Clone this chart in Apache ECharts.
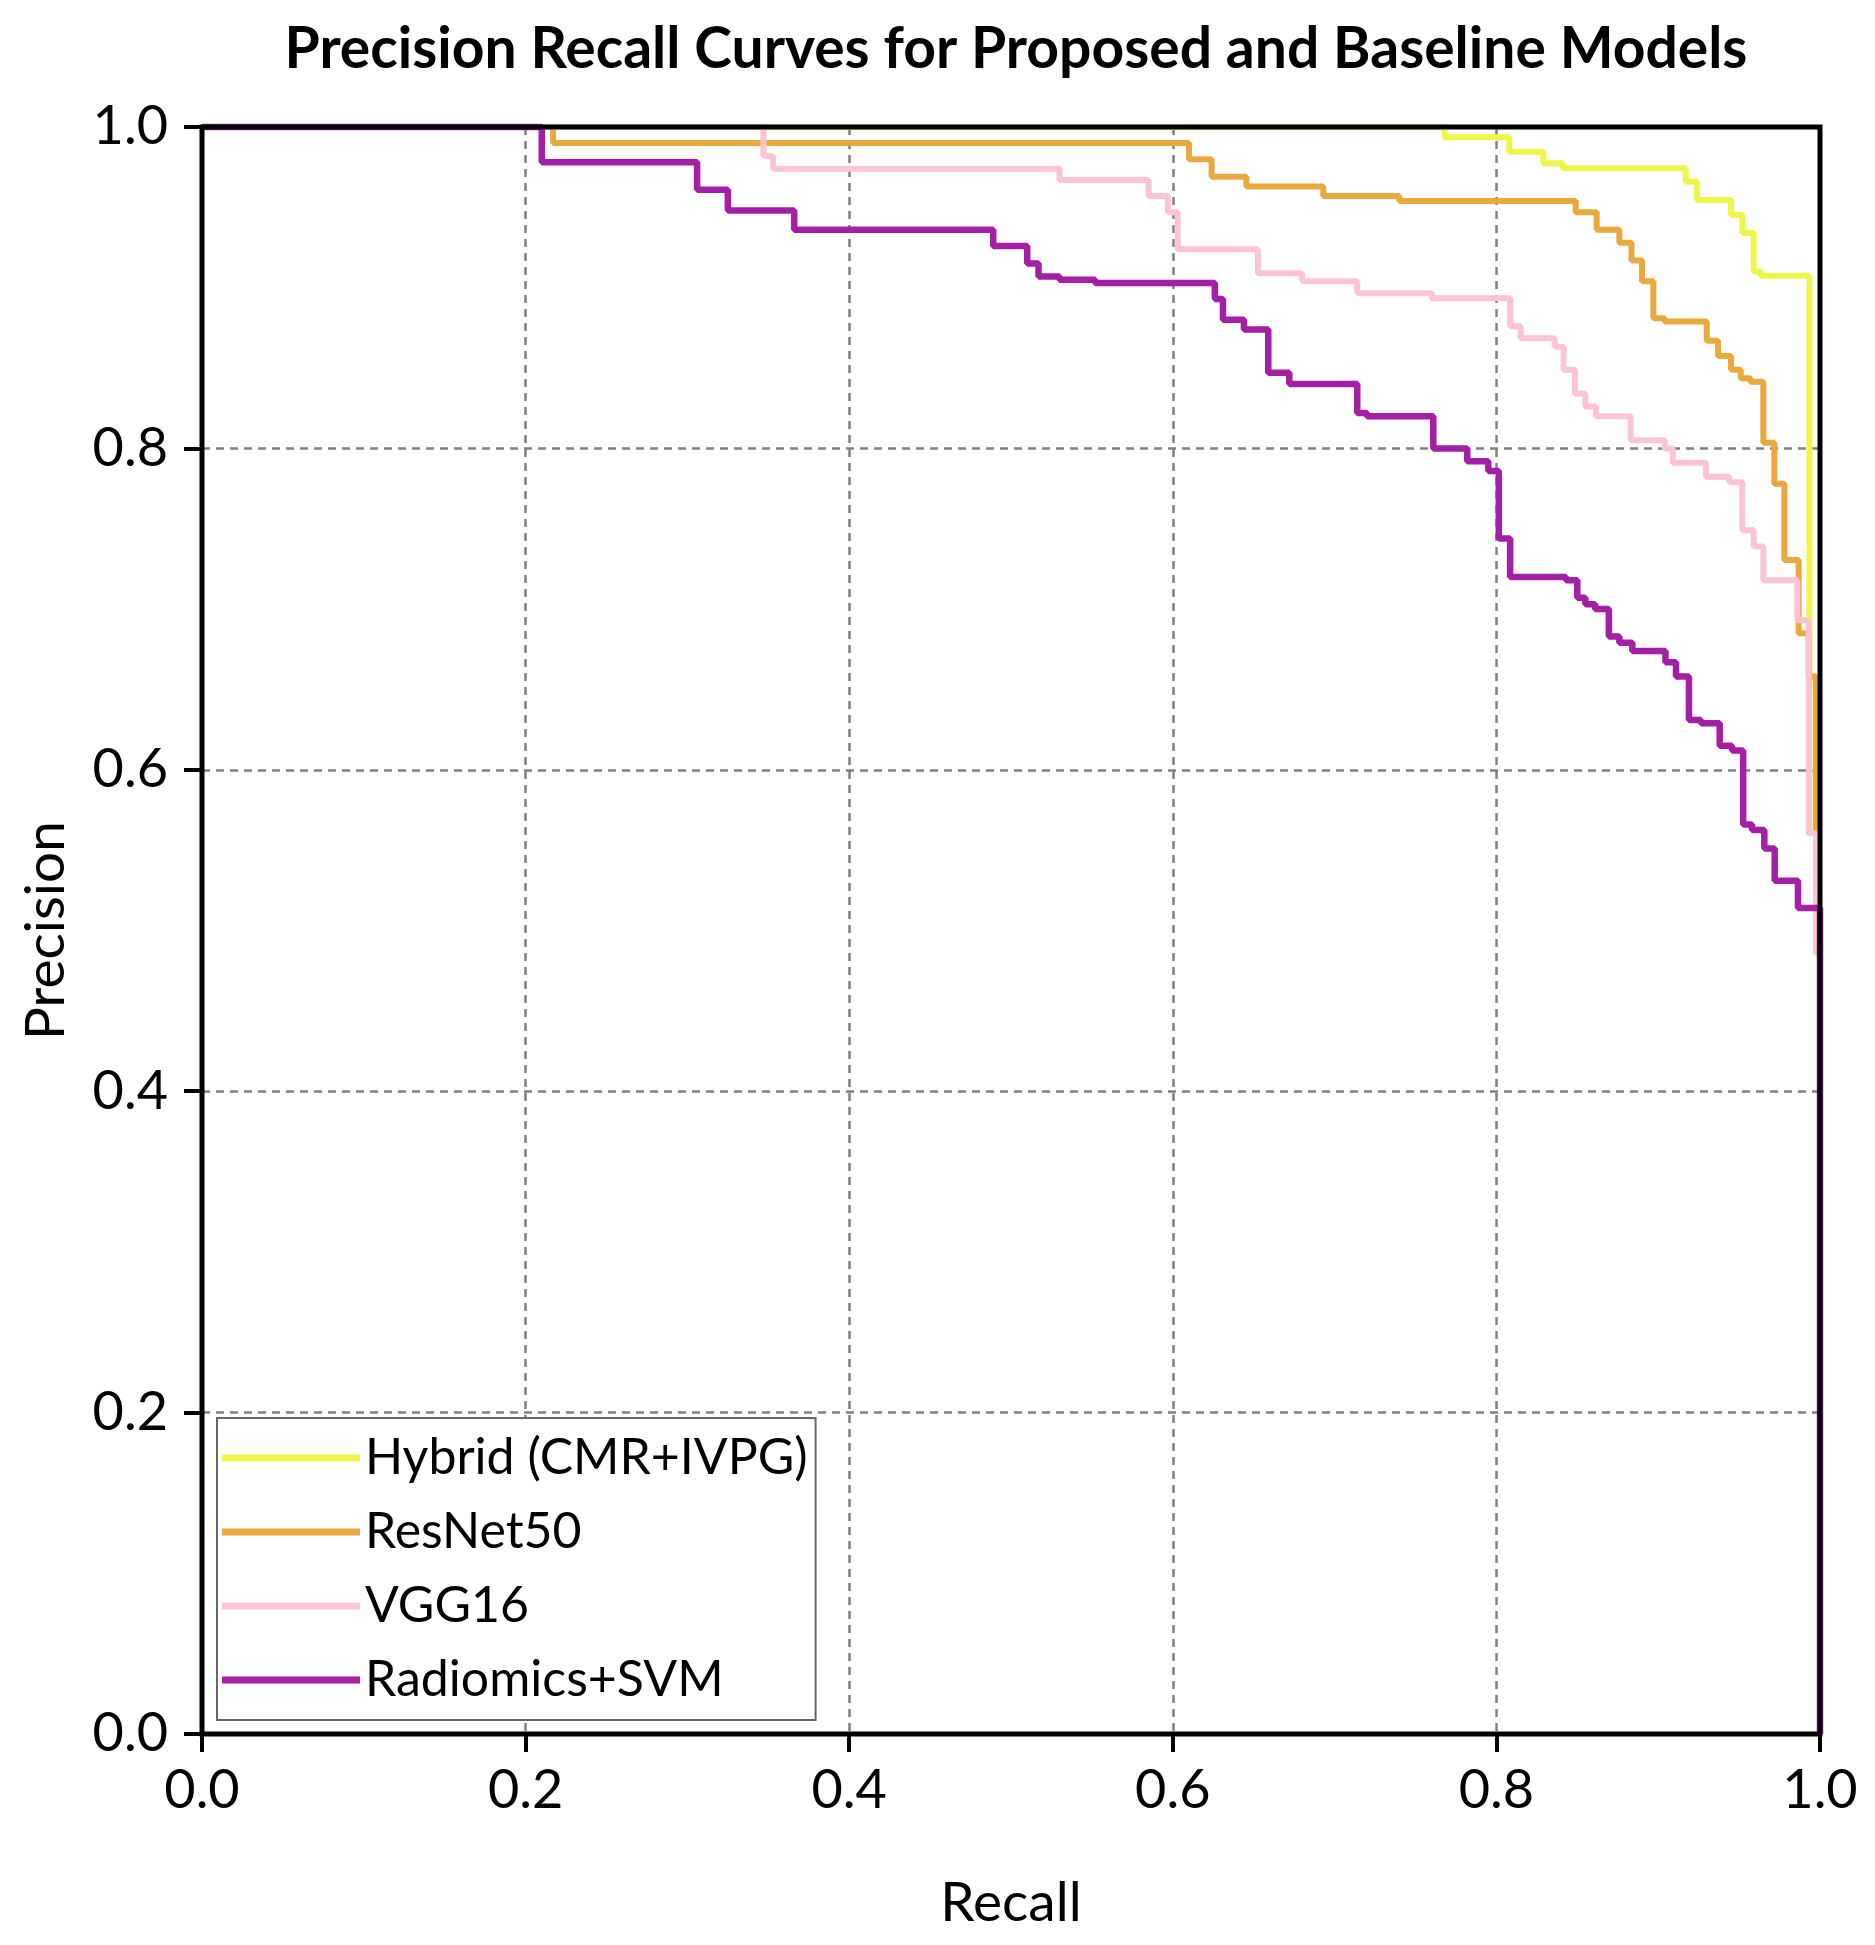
<!DOCTYPE html>
<html>
<head>
<meta charset="utf-8">
<title>Precision Recall Curves</title>
<script src="https://cdn.jsdelivr.net/npm/echarts@6/dist/echarts.min.js"></script>
<style>
  html, body { margin: 0; padding: 0; background: #fff; }
  #main { width: 1875px; height: 1945px; }
</style>
</head>
<body>
<div id="main"></div>
<script>
// axis ticks
var tickValues = [0, 0.2, 0.4, 0.6, 0.8, 1.0];

// Hybrid (CMR+IVPG)
var hybridRecall = [0, 0.768, 0.808, 0.829, 0.841, 0.917, 0.924, 0.945, 0.952, 0.959, 0.9635, 0.9935, 1.0];
var hybridPrecision = [1.0, 0.9936, 0.9846, 0.9774, 0.9743, 0.966, 0.9546, 0.9453, 0.9342, 0.910, 0.9075, 0.561, 0.561];

// ResNet50
var resnetRecall = [0, 0.217, 0.610, 0.624, 0.6455, 0.693, 0.740, 0.849, 0.862, 0.876, 0.8835, 0.890, 0.897, 0.904,
  0.930, 0.937, 0.945, 0.951, 0.957, 0.965, 0.9718, 0.978, 0.9868, 0.993, 0.9975, 1.0];
var resnetPrecision = [1.0, 0.990, 0.980, 0.969, 0.963, 0.957, 0.954, 0.947, 0.936, 0.928, 0.917, 0.904, 0.881, 0.879,
  0.867, 0.8575, 0.849, 0.8436, 0.8415, 0.8035, 0.778, 0.7306, 0.685, 0.658, 0.5625, 0.5625];

// VGG16
var vggRecall = [0, 0.347, 0.353, 0.530, 0.585, 0.597, 0.603, 0.6526, 0.680, 0.714, 0.760, 0.8085, 0.815, 0.836,
  0.8415, 0.8485, 0.855, 0.8615, 0.883, 0.904, 0.909, 0.9295, 0.944, 0.952, 0.959, 0.965, 0.986, 0.993, 0.9975, 1.0];
var vggPrecision = [1.0, 0.982, 0.974, 0.967, 0.957, 0.947, 0.924, 0.909, 0.904, 0.8965, 0.8935, 0.876, 0.8685, 0.8633,
  0.849, 0.834, 0.826, 0.820, 0.805, 0.800, 0.791, 0.7824, 0.779, 0.749, 0.739, 0.718, 0.693, 0.5605, 0.486, 0.486];

// Radiomics+SVM
var svmRecall = [0, 0.210, 0.306, 0.325, 0.366, 0.489, 0.510, 0.517, 0.530, 0.552, 0.626, 0.631, 0.644, 0.659, 0.672,
  0.714, 0.720, 0.761, 0.782, 0.795, 0.8015, 0.8085, 0.843, 0.850, 0.855, 0.861, 0.8695, 0.876, 0.884, 0.9045, 0.911,
  0.919, 0.9264, 0.938, 0.9456, 0.9525, 0.958, 0.9656, 0.972, 0.9864, 1.0];
var svmPrecision = [1.0, 0.978, 0.961, 0.948, 0.936, 0.926, 0.915, 0.907, 0.905, 0.903, 0.893, 0.880, 0.874, 0.847, 0.840,
  0.822, 0.820, 0.800, 0.792, 0.786, 0.744, 0.720, 0.718, 0.707, 0.703, 0.700, 0.683, 0.679, 0.674, 0.667, 0.658,
  0.631, 0.629, 0.615, 0.612, 0.566, 0.5625, 0.551, 0.531, 0.514, 0.0];

var modelNames = ['Hybrid (CMR+IVPG)', 'ResNet50', 'VGG16', 'Radiomics+SVM'];
var modelColors = ['#EEF64A', '#EBA83C', '#FFC3D3', '#A41FA6'];

function pairs(xs, ys) {
  var out = [];
  for (var i = 0; i < xs.length; i++) out.push([xs[i], ys[i]]);
  return out;
}

var curves = [
  pairs(hybridRecall, hybridPrecision),
  pairs(resnetRecall, resnetPrecision),
  pairs(vggRecall, vggPrecision),
  pairs(svmRecall, svmPrecision)
];

var font = 'Lato';
var chart = echarts.init(document.getElementById('main'));

var axisCommon = {
  type: 'value',
  min: 0,
  max: 1,
  interval: 0.2,
  axisLine: { show: false },
  axisTick: { show: true, inside: false, length: 18, lineStyle: { color: '#000', width: 4 } },
  splitLine: { show: true, lineStyle: { color: '#808080', width: 2.5, type: [8, 6] } },
  axisLabel: {
    color: '#000',
    fontFamily: font,
    fontSize: 54,
    formatter: function (v) { return v.toFixed(1); }
  },
  nameLocation: 'middle',
  nameTextStyle: { color: '#000', fontFamily: font, fontSize: 55 }
};

chart.setOption({
  backgroundColor: '#fff',
  animation: false,
  title: {
    text: 'Precision Recall Curves for Proposed and Baseline Models',
    left: 1011,
    textAlign: 'center',
    top: 16,
    textStyle: { color: '#000', fontFamily: font, fontWeight: 'bold', fontSize: 57 }
  },
  grid: {
    left: 202,
    right: 55,
    top: 127,
    bottom: 211,
    show: true,
    borderColor: '#000',
    borderWidth: 5,
    z: 5
  },
  legend: {
    data: modelNames,
    orient: 'vertical',
    left: 217,
    top: 1418,
    icon: 'rect',
    itemWidth: 138,
    itemHeight: 7,
    itemGap: 14,
    itemTextGap: 18,
    padding: [10, 8, 10, 5],
    backgroundColor: '#fff',
    borderColor: '#666',
    borderWidth: 2,
    borderRadius: 0,
    textStyle: { color: '#000', fontFamily: font, fontSize: 50, lineHeight: 60 }
  },
  xAxis: Object.assign({}, axisCommon, {
    name: 'Recall',
    nameGap: 142,
    axisLabel: Object.assign({}, axisCommon.axisLabel, { margin: 30 })
  }),
  yAxis: Object.assign({}, axisCommon, {
    name: 'Precision',
    nameGap: 128,
    axisLabel: Object.assign({}, axisCommon.axisLabel, { margin: 34 })
  }),
  series: curves.map(function (d, i) {
    return {
      name: modelNames[i],
      type: 'line',
      step: 'end',
      data: d,
      showSymbol: false,
      symbol: 'none',
      clip: false,
      color: modelColors[i],
      lineStyle: { color: modelColors[i], width: i === 3 ? 6.5 : 6 }
    };
  })
});
</script>
</body>
</html>
